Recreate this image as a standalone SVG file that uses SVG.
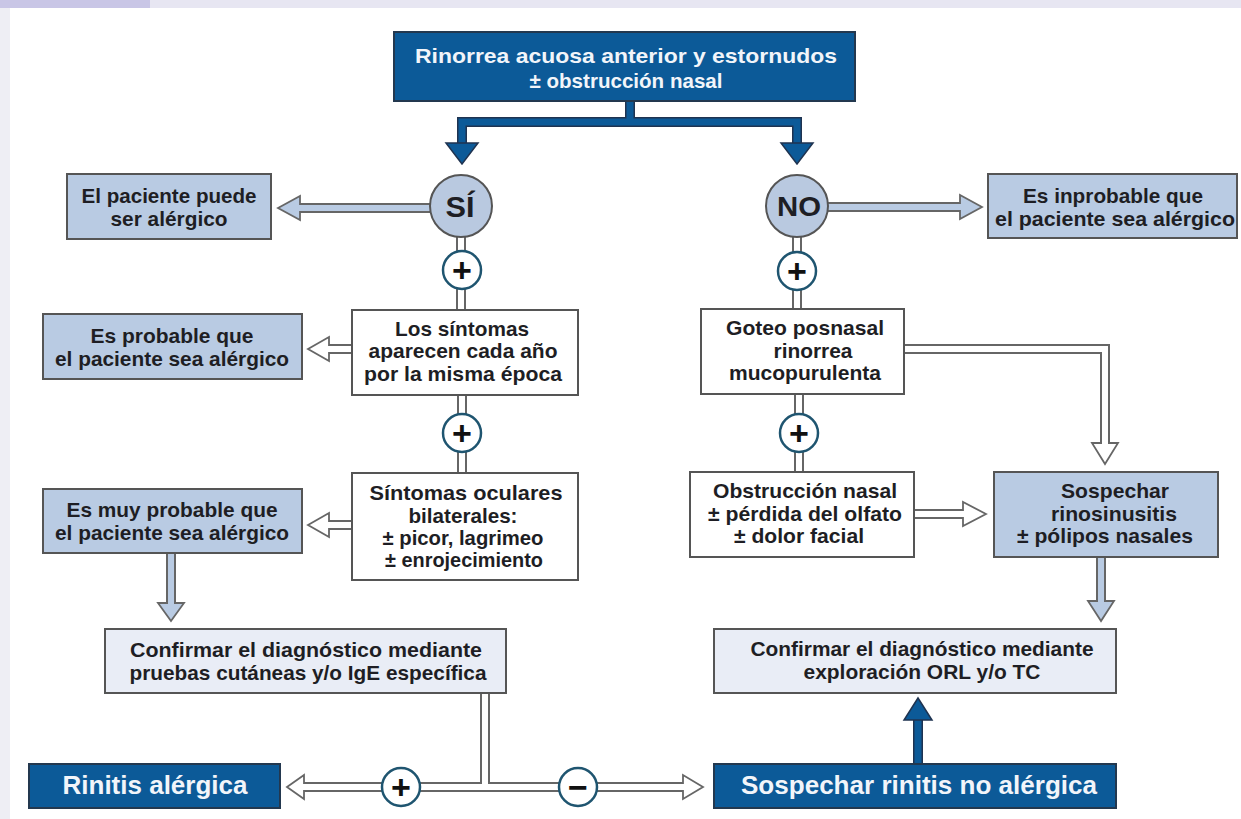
<svg xmlns="http://www.w3.org/2000/svg" width="1241" height="819" viewBox="0 0 1241 819">
<defs>
<style>
text{font-family:"Liberation Sans",Arial,sans-serif;font-weight:bold;text-anchor:middle;fill:#1e1e24}
.t{font-size:20.5px}
.tw{fill:#f2f5fa}
.big{font-size:25px}
.dark{fill:#0c5a98;stroke:#23384f;stroke-width:2}
.lb{fill:#b9cbe3;stroke:#555;stroke-width:2}
.wb{fill:#ffffff;stroke:#555;stroke-width:2}
.vl{fill:#e9edf6;stroke:#555;stroke-width:2}
.po{fill:none;stroke:#666;stroke-width:10;stroke-linejoin:miter}
.pw{fill:none;stroke:#ffffff;stroke-width:6;stroke-linejoin:miter}
.pb{fill:none;stroke:#b9cbe3;stroke-width:6;stroke-linejoin:miter}
.hw{fill:#ffffff;stroke:#666;stroke-width:1.8;stroke-linejoin:miter}
.hb{fill:#b9cbe3;stroke:#666;stroke-width:1.8;stroke-linejoin:miter}
.yn{fill:#b9c9e0;stroke:#555;stroke-width:2}
.pc{fill:#ffffff;stroke:#1f5570;stroke-width:2.5}
.sym{font-size:34px;fill:#111}
.dko{fill:none;stroke:#1f3350;stroke-width:10}
.dki{fill:none;stroke:#0c5a98;stroke-width:7}
.dkh{fill:#0c5a98;stroke:#1f3350;stroke-width:1.5}
</style>
</defs>
<rect x="0" y="0" width="1241" height="819" fill="#ffffff"/>
<rect x="0" y="0" width="1241" height="8" fill="#e7e6f2"/>
<rect x="0" y="0" width="10" height="819" fill="#eeeef4"/>
<rect x="0" y="0" width="150" height="8" fill="#c9c6e6"/>

<g id="connectors">
  <path class="dko" d="M630,101 V122 H462 V143 M630,122 H797 V143"/>
  <path class="dki" d="M630,100 V122 H462 V144 M630,122 H797 V144"/>
  <polygon class="dkh" points="446,143 478,143 462,164"/>
  <polygon class="dkh" points="781,143 813,143 797,164"/>

  <path class="po" d="M432,208 H300"/>
  <polygon class="hb" points="278,208 300,196 300,220"/>
  <path class="pb" d="M432,208 H297"/>

  <path class="po" d="M826,207 H960"/>
  <polygon class="hb" points="982,207 960,195 960,219"/>
  <path class="pb" d="M826,207 H963"/>

  <path class="po" d="M461,236 V311 M462,394 V474 M797,236 V310 M799,393 V473"/>
  <path class="pw" d="M461,236 V313 M462,393 V476 M797,236 V312 M799,392 V475"/>

  <path class="po" d="M353,349 H329"/>
  <polygon class="hw" points="308,349 329,337 329,361"/>
  <path class="pw" d="M355,349 H326"/>

  <path class="po" d="M353,525 H329"/>
  <polygon class="hw" points="308,525 329,513 329,537"/>
  <path class="pw" d="M355,525 H326"/>

  <path class="po" d="M171,552 V603"/>
  <polygon class="hb" points="171,621 158,603 184,603"/>
  <path class="pb" d="M171,552 V606"/>

  <path class="po" d="M903,349 H1105 V443"/>
  <polygon class="hw" points="1105,464 1092,443 1118,443"/>
  <path class="pw" d="M901,349 H1105 V446"/>

  <path class="po" d="M913,514 H963"/>
  <polygon class="hw" points="986,514 963,502 963,526"/>
  <path class="pw" d="M911,514 H966"/>

  <path class="po" d="M1101,556 V601"/>
  <polygon class="hb" points="1101,621 1088,601 1114,601"/>
  <path class="pb" d="M1101,556 V604"/>

  <path class="po" d="M485,692 V787 H304 M485,787 H683"/>
  <polygon class="hw" points="287,787 304,775 304,799"/>
  <polygon class="hw" points="703,787 683,775 683,799"/>
  <path class="pw" d="M485,690 V787 H301 M485,787 H686"/>

  <path class="dko" d="M918,765 V719"/>
  <path class="dki" d="M918,766 V716"/>
  <polygon class="dkh" points="918,698 904,720 932,720"/>

  <g id="op1"><circle class="pc" cx="462" cy="270" r="19"/><text class="sym" x="462" y="282">+</text></g>
  <g id="op2"><circle class="pc" cx="462" cy="433" r="19"/><text class="sym" x="462" y="445">+</text></g>
  <g id="op3"><circle class="pc" cx="797" cy="271" r="19"/><text class="sym" x="797" y="283">+</text></g>
  <g id="op4"><circle class="pc" cx="799" cy="433" r="19"/><text class="sym" x="799" y="445">+</text></g>
  <g id="op5"><circle class="pc" cx="401" cy="787" r="19"/><text class="sym" x="401" y="799">+</text></g>
  <g id="op6"><circle class="pc" cx="578" cy="787" r="19"/><text class="sym" x="578" y="799">−</text></g>
</g>

<g id="n-top">
  <rect class="dark" x="394" y="32" width="461" height="69"/>
  <text class="t tw" x="626" y="63" style="font-size:21px" textLength="422" lengthAdjust="spacingAndGlyphs">Rinorrea acuosa anterior y estornudos</text>
  <text class="t tw" x="626" y="88" textLength="193" lengthAdjust="spacingAndGlyphs">± obstrucción nasal</text>
</g>

<g id="n-si">
  <circle class="yn" cx="461" cy="206" r="31"/>
  <text x="460" y="217" style="font-size:30px" textLength="29" lengthAdjust="spacingAndGlyphs">SÍ</text>
</g>
<g id="n-no">
  <circle class="yn" cx="797" cy="206" r="31"/>
  <text x="799" y="216" style="font-size:28px" textLength="44" lengthAdjust="spacingAndGlyphs">NO</text>
</g>

<g id="n-puede">
  <rect class="lb" x="67" y="174" width="204" height="65"/>
  <text class="t" x="169" y="203" textLength="175" lengthAdjust="spacingAndGlyphs">El paciente puede</text>
  <text class="t" x="169" y="226" textLength="117" lengthAdjust="spacingAndGlyphs">ser alérgico</text>
</g>

<g id="n-inprobable">
  <rect class="lb" x="988" y="174" width="249" height="64"/>
  <text class="t" x="1113" y="203" textLength="180" lengthAdjust="spacingAndGlyphs">Es inprobable que</text>
  <text class="t" x="1115" y="226" textLength="240" lengthAdjust="spacingAndGlyphs">el paciente sea alérgico</text>
</g>

<g id="n-probable">
  <rect class="lb" x="43" y="314" width="259" height="65"/>
  <text class="t" x="172" y="343" textLength="163" lengthAdjust="spacingAndGlyphs">Es probable que</text>
  <text class="t" x="172" y="366" textLength="234" lengthAdjust="spacingAndGlyphs">el paciente sea alérgico</text>
</g>

<g id="n-cadaano">
  <rect class="wb" x="352" y="310" width="226" height="85"/>
  <text class="t" x="462" y="336" textLength="134" lengthAdjust="spacingAndGlyphs">Los síntomas</text>
  <text class="t" x="463" y="358" textLength="189" lengthAdjust="spacingAndGlyphs">aparecen cada año</text>
  <text class="t" x="463" y="381" textLength="198" lengthAdjust="spacingAndGlyphs">por la misma época</text>
</g>

<g id="n-oculares">
  <rect class="wb" x="352" y="473" width="226" height="107"/>
  <text class="t" x="466" y="500" textLength="193" lengthAdjust="spacingAndGlyphs">Síntomas oculares</text>
  <text class="t" x="463" y="523" textLength="109" lengthAdjust="spacingAndGlyphs">bilaterales:</text>
  <text class="t" x="463" y="545" textLength="161" lengthAdjust="spacingAndGlyphs">± picor, lagrimeo</text>
  <text class="t" x="464" y="567" textLength="158" lengthAdjust="spacingAndGlyphs">± enrojecimiento</text>
</g>

<g id="n-muyprobable">
  <rect class="lb" x="43" y="489" width="259" height="64"/>
  <text class="t" x="172" y="517" textLength="211" lengthAdjust="spacingAndGlyphs">Es muy probable que</text>
  <text class="t" x="172" y="540" textLength="234" lengthAdjust="spacingAndGlyphs">el paciente sea alérgico</text>
</g>

<g id="n-goteo">
  <rect class="wb" x="701" y="309" width="203" height="85"/>
  <text class="t" x="805" y="335" textLength="158" lengthAdjust="spacingAndGlyphs">Goteo posnasal</text>
  <text class="t" x="813" y="358" textLength="79" lengthAdjust="spacingAndGlyphs">rinorrea</text>
  <text class="t" x="805" y="380" textLength="152" lengthAdjust="spacingAndGlyphs">mucopurulenta</text>
</g>

<g id="n-obstruccion">
  <rect class="wb" x="690" y="472" width="224" height="85"/>
  <text class="t" x="805" y="498" textLength="184" lengthAdjust="spacingAndGlyphs">Obstrucción nasal</text>
  <text class="t" x="805" y="521" textLength="194" lengthAdjust="spacingAndGlyphs">± pérdida del olfato</text>
  <text class="t" x="799" y="543" textLength="130" lengthAdjust="spacingAndGlyphs">± dolor facial</text>
</g>

<g id="n-rinosinusitis">
  <rect class="lb" x="994" y="472" width="224" height="85"/>
  <text class="t" x="1115" y="498" textLength="108" lengthAdjust="spacingAndGlyphs">Sospechar</text>
  <text class="t" x="1114" y="521" textLength="126" lengthAdjust="spacingAndGlyphs">rinosinusitis</text>
  <text class="t" x="1105" y="543" textLength="176" lengthAdjust="spacingAndGlyphs">± pólipos nasales</text>
</g>

<g id="n-confirmar1">
  <rect class="vl" x="105" y="629" width="401" height="64"/>
  <text class="t" x="306" y="657" textLength="352" lengthAdjust="spacingAndGlyphs">Confirmar el diagnóstico mediante</text>
  <text class="t" x="308" y="680" textLength="357" lengthAdjust="spacingAndGlyphs">pruebas cutáneas y/o IgE específica</text>
</g>

<g id="n-confirmar2">
  <rect class="vl" x="714" y="629" width="402" height="64"/>
  <text class="t" x="922" y="656" textLength="343" lengthAdjust="spacingAndGlyphs">Confirmar el diagnóstico mediante</text>
  <text class="t" x="922" y="679" textLength="237" lengthAdjust="spacingAndGlyphs">exploración ORL y/o TC</text>
</g>

<g id="n-rinitis">
  <rect class="dark" x="29" y="764" width="251" height="44"/>
  <text class="big tw" x="155" y="794" textLength="185" lengthAdjust="spacingAndGlyphs">Rinitis alérgica</text>
</g>

<g id="n-noalergica">
  <rect class="dark" x="714" y="764" width="402" height="44"/>
  <text class="big tw" x="919" y="794" textLength="356" lengthAdjust="spacingAndGlyphs">Sospechar rinitis no alérgica</text>
</g>
</svg>
